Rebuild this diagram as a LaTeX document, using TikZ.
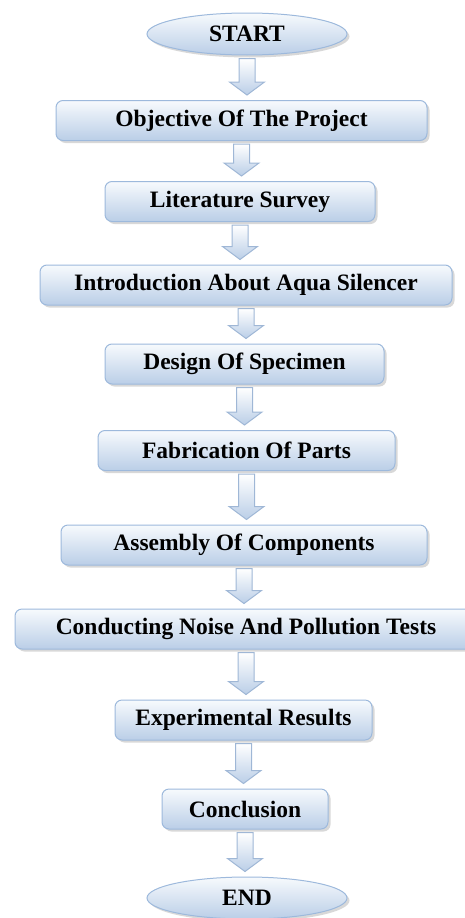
\documentclass[tikz,border=0pt]{standalone}
\usepackage{fontspec}
\setmainfont{Liberation Serif}
\usepackage{tikz}
\usetikzlibrary{calc,shadows,shapes.geometric}
\definecolor{boxline}{HTML}{9DB9DC}
\definecolor{boxlow}{HTML}{BACEE7}
\definecolor{boxtop}{HTML}{F7FAFD}
\definecolor{arrline}{HTML}{9FB7D6}
% block arrow from one node to the next
\def\blockarr(#1)(#2){\path[flowarrow] let \p1=($(#1.south)+(0pt,-3pt)$), \p2=($(#2.north)+(0pt,5pt)$) in
  (\x1-8pt,\y1) -- (\x1+8pt,\y1) -- (\x1+8pt,\y2+13pt) -- (\x1+17.5pt,\y2+13pt) -- (\x1,\y2)
  -- (\x1-17.5pt,\y2+13pt) -- (\x1-8pt,\y2+13pt) -- cycle;}

\begin{document}
\begin{tikzpicture}[x=1pt,y=-1pt,
    procbox/.style={draw=boxline, line width=1pt, rounded corners=7pt, top color=boxtop, bottom color=boxlow,
      drop shadow={shadow xshift=2.5pt, shadow yshift=-2.5pt, fill=black!30},
      inner sep=0pt, minimum height=40pt, font=\fontsize{23.5}{28}\selectfont\bfseries},
    termbox/.style={procbox, ellipse, rounded corners=0pt, minimum width=200pt, minimum height=42pt},
    flowarrow/.style={draw=arrline, line width=1pt, top color=white, bottom color=boxlow}]
  \useasboundingbox (0,0) rectangle (464,918);

  %%%%% NODES %%%%%
  \node[termbox] (start) at (247,34) {START};
  \node[procbox, minimum width=371pt] (objective) at (241.5,120.5) {Objective Of The Project};
  \node[procbox, minimum width=270pt] (survey) at (240,201.5) {Literature Survey};
  \node[procbox, minimum width=412pt] (intro) at (246,285) {Introduction About Aqua Silencer};
  \node[procbox, minimum width=279pt] (design) at (244.5,364) {Design Of Specimen};
  \node[procbox, minimum width=297pt] (fabrication) at (246.5,450.5) {Fabrication Of Parts};
  \node[procbox, minimum width=366pt] (assembly) at (244,545) {Assembly Of Components};
  \node[procbox, minimum width=462pt] (tests) at (246,629) {Conducting Noise And Pollution Tests};
  \node[procbox, minimum width=257pt] (results) at (243.5,720) {Experimental Results};
  \node[procbox, minimum width=166pt] (conclusion) at (245,809) {Conclusion};
  \node[termbox] (stop) at (247,898) {END};

  %%%%% ARROWS %%%%%
  \blockarr(start)(objective)
  \blockarr(objective)(survey)
  \blockarr(survey)(intro)
  \blockarr(intro)(design)
  \blockarr(design)(fabrication)
  \blockarr(fabrication)(assembly)
  \blockarr(assembly)(tests)
  \blockarr(tests)(results)
  \blockarr(results)(conclusion)
  \blockarr(conclusion)(stop)
\end{tikzpicture}
\end{document}
